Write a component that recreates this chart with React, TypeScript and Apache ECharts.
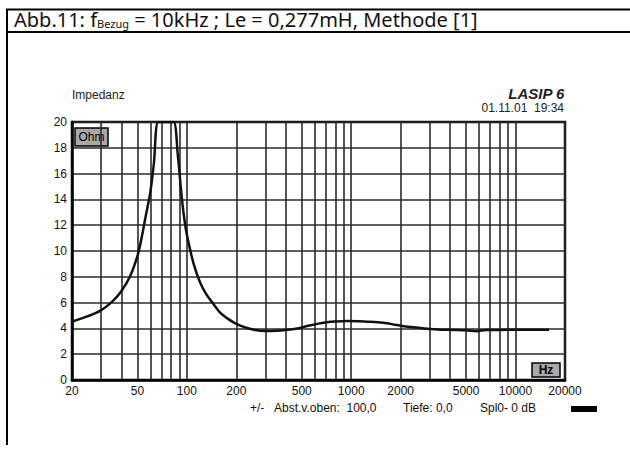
import React, { useEffect, useRef } from "react";
import * as echarts from "echarts";

// Impedance curve (frequency in Hz, impedance in Ohm)
const freqs = [20, 25, 30, 35, 40, 45, 50, 53, 56, 60, 63, 67, 75, 83, 88, 93, 98, 103, 110, 120, 132, 145, 160, 180, 200, 230, 260, 300, 350, 400, 470, 540, 620, 710, 800, 940, 1100, 1250, 1450, 1650, 1850, 2050, 2300, 2650, 3000, 3500, 4200, 5000, 5800, 6600, 8000, 10000, 12500, 16000];
const impedance = [4.52, 4.95, 5.4, 6.05, 6.9, 8.0, 9.6, 11.0, 12.6, 14.6, 16.8, 20, 20, 20, 17.5, 14.2, 11.9, 10.5, 9.0, 7.6, 6.6, 5.9, 5.2, 4.7, 4.35, 4.05, 3.88, 3.8, 3.82, 3.88, 4.0, 4.18, 4.35, 4.47, 4.53, 4.57, 4.56, 4.52, 4.47, 4.4, 4.28, 4.19, 4.1, 4.03, 3.95, 3.9, 3.88, 3.85, 3.78, 3.88, 3.88, 3.9, 3.9, 3.9];

// Vertical grid lines and x tick labels
const gridFreqs = [20, 30, 40, 50, 60, 70, 80, 90, 100, 200, 300, 400, 500, 600, 700, 800, 900, 1000, 2000, 3000, 4000, 5000, 6000, 7000, 8000, 9000, 10000, 20000];
const xLabels = [20, 50, 100, 200, 500, 1000, 2000, 5000, 10000, 20000];

const titleMain = "Abb.11: f";
const titleSub = "Bezug";
const titleRest = " = 10kHz ; Le = 0,277mH, Methode [1]";

const FONT = "'Liberation Sans', Arial, sans-serif";
const TFONT = "'Noto Sans', 'Open Sans', sans-serif";

export default function App() {
  const ref = useRef<HTMLDivElement>(null);
  useEffect(() => {
    if (!ref.current) return;
    const chart = echarts.init(ref.current, undefined, { renderer: "svg" });
    const data = freqs.map((f, i) => [f, impedance[i]]);
    chart.setOption({
      animation: false,
      backgroundColor: "#fff",
      grid: { left: 72, right: 65, top: 122, bottom: 72, show: true, borderColor: "#000", borderWidth: 2.5, backgroundColor: "transparent" },
      xAxis: {
        type: "log",
        logBase: 10,
        min: 20,
        max: 20000,
        axisLine: { show: true, lineStyle: { color: "#000", width: 2.5 } },
        axisTick: { show: false, customValues: gridFreqs },
        axisLabel: { customValues: xLabels, fontFamily: FONT, fontSize: 12, color: "#111", margin: 5, showMinLabel: true, showMaxLabel: true, formatter: (v: number) => String(Math.round(v)) },
        splitLine: { show: true, lineStyle: { color: "#2a2a2a", width: 1.6 } },
      },
      yAxis: {
        type: "value",
        min: 0,
        max: 20,
        interval: 2,
        axisLine: { show: true, lineStyle: { color: "#000", width: 2.5 } },
        axisTick: { show: false },
        axisLabel: { fontFamily: FONT, fontSize: 12, color: "#111", margin: 5 },
        splitLine: { show: true, lineStyle: { color: "#2a2a2a", width: 1.6 } },
      },
      series: [
        {
          type: "line",
          data,
          smooth: 0.3,
          symbol: "none",
          clip: true,
          lineStyle: { color: "#111", width: 2.5 },
        },
      ],
      graphic: [
        // frame
        { type: "line", shape: { x1: 6, y1: 9.5, x2: 630, y2: 9.5 }, style: { stroke: "#000", lineWidth: 2 } },
        { type: "line", shape: { x1: 6, y1: 32, x2: 630, y2: 32 }, style: { stroke: "#000", lineWidth: 2 } },
        { type: "line", shape: { x1: 7, y1: 9, x2: 7, y2: 445 }, style: { stroke: "#000", lineWidth: 2 } },
        {
          type: "text",
          left: 14,
          top: 9,
          style: {
            text: `{a|${titleMain}}{s|${titleSub}}{a|${titleRest}}`,
            rich: {
              a: { fontFamily: TFONT, fontSize: 20, fill: "#111", lineHeight: 24, verticalAlign: "bottom" },
              s: { fontFamily: TFONT, fontSize: 11, fill: "#111", lineHeight: 13, verticalAlign: "bottom" },
            },
          },
        },
        { type: "text", left: 72, top: 89, style: { text: "Impedanz", fontFamily: FONT, fontSize: 12, fill: "#222" } },
        { type: "text", right: 65, top: 86, style: { text: "LASIP 6", fontFamily: FONT, fontSize: 15, fontWeight: "bold", fontStyle: "italic", fill: "#222" } },
        { type: "text", right: 66, top: 102, style: { text: "01.11.01  19:34", fontFamily: FONT, fontSize: 12, fill: "#222" } },
        // unit boxes
        { type: "rect", shape: { x: 75, y: 128, width: 33, height: 18 }, style: { fill: "#a8a8a8", stroke: "#000", lineWidth: 1.5 } },
        { type: "text", x: 91.5, y: 137, style: { text: "Ohm", fontFamily: FONT, fontSize: 12, fill: "#000", align: "center", verticalAlign: "middle" } },
        { type: "rect", shape: { x: 532, y: 363, width: 28, height: 14 }, style: { fill: "#a8a8a8", stroke: "#000", lineWidth: 1.5 } },
        { type: "text", x: 546, y: 370, style: { text: "Hz", fontFamily: FONT, fontSize: 12, fontWeight: "bold", fill: "#000", align: "center", verticalAlign: "middle" } },
        // bottom info
        { type: "text", x: 250, y: 408, style: { text: "+/-", fontFamily: FONT, fontSize: 12, fill: "#111", verticalAlign: "middle" } },
        { type: "text", x: 274, y: 408, style: { text: "Abst.v.oben:  100,0", fontFamily: FONT, fontSize: 12, fill: "#111", verticalAlign: "middle" } },
        { type: "text", x: 403, y: 408, style: { text: "Tiefe: 0,0", fontFamily: FONT, fontSize: 12, fill: "#111", verticalAlign: "middle" } },
        { type: "text", x: 480, y: 408, style: { text: "Spl0- 0 dB", fontFamily: FONT, fontSize: 12, fill: "#111", verticalAlign: "middle" } },
        { type: "rect", shape: { x: 571, y: 406, width: 26, height: 6 }, style: { fill: "#000" } },
      ],
    });
    return () => chart.dispose();
  }, []);
  return <div ref={ref} style={{ position: "fixed", left: 0, top: 0, width: 630, height: 452 }} />;
}
